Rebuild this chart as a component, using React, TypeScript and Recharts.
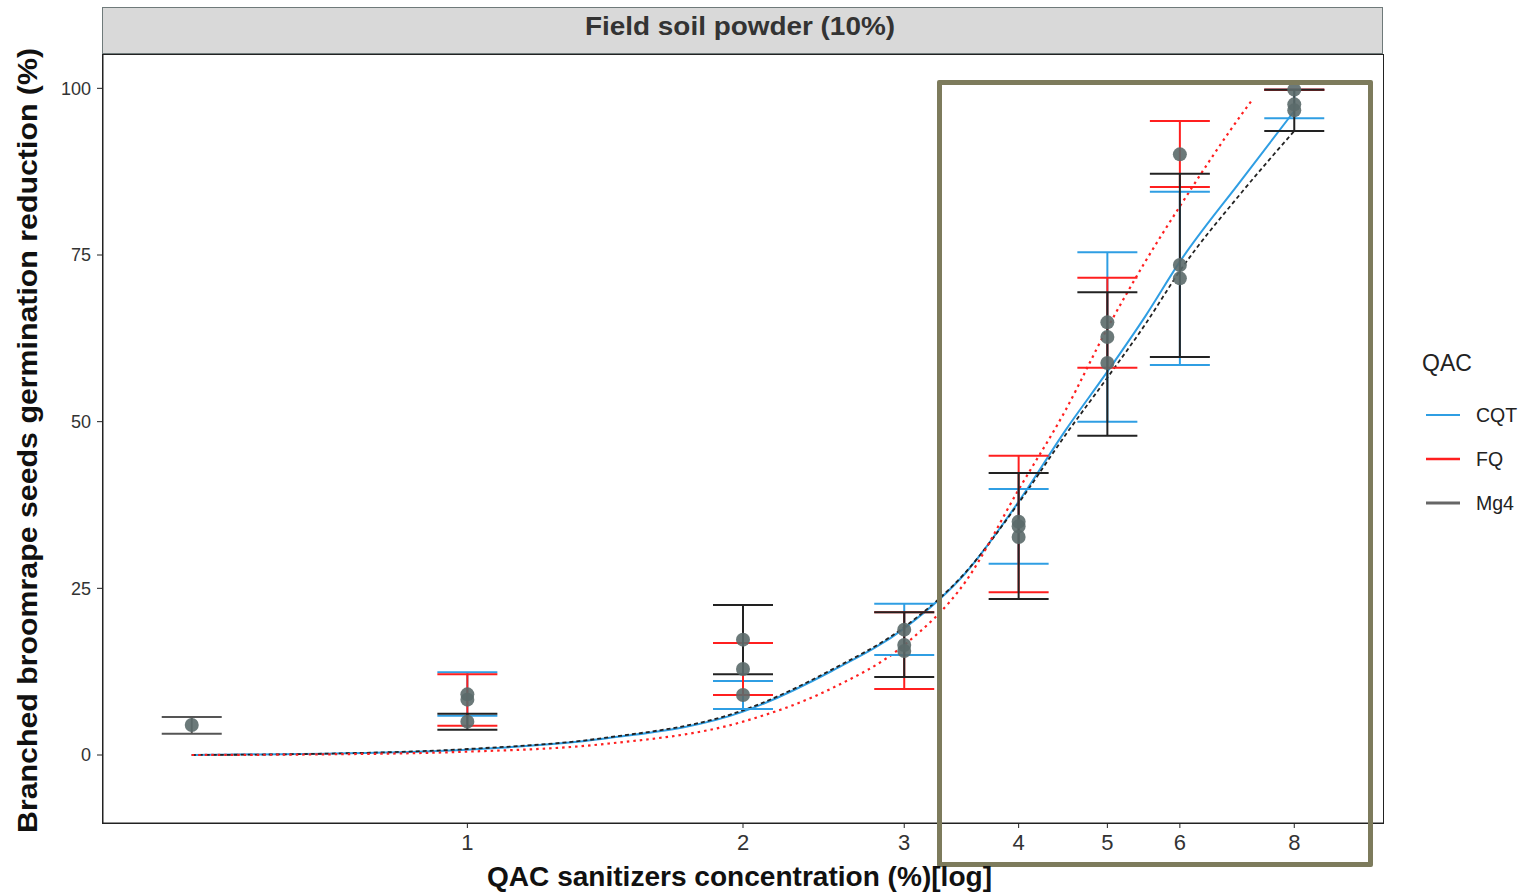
import React from 'react';
import { ComposedChart, Line, Scatter, ErrorBar, XAxis, YAxis } from 'recharts';

// concentrations (log axis) and per-QAC means with error limits
const concentrations = [1, 2, 3, 4, 5, 6, 8];
const cqtMean = [9.1, 9.0, 18.8, 34.3, 62.7, 71.5, 97.6];
const cqtLow = [5.9, 6.9, 15.0, 28.7, 50.0, 58.5, 95.5];
const cqtHigh = [12.4, 11.1, 22.7, 39.9, 75.4, 84.5, 99.8];
const fqMean = [8.3, 12.9, 15.6, 35.0, 64.9, 90.1, 99.8];
const fqLow = [4.4, 9.0, 9.9, 24.4, 58.1, 85.2, 99.8];
const fqHigh = [12.1, 16.8, 21.4, 44.9, 71.6, 95.1, 99.8];
const mg4Mean = [5.0, 17.3, 16.5, 32.7, 58.8, 73.5, 96.7];
const mg4Low = [3.8, 12.1, 11.7, 23.4, 47.9, 59.7, 93.6];
const mg4High = [6.2, 22.5, 21.4, 42.3, 69.4, 87.2, 99.8];

// untreated control
const controlX = [0.5];
const controlMean = [4.5];
const controlLow = [3.2];
const controlHigh = [5.7];

// fitted dose-response curves
const curveX = [0.5, 0.7, 1, 1.4, 2, 2.5, 3, 3.5, 4, 4.5, 5, 5.5, 6, 7, 8];
const cqtCurve = [0, 0.2, 0.8, 2.4, 6.5, 12.6, 19.0, 27.3, 38.0, 48.7, 57.5, 65.8, 74.0, 86.2, 96.6];
const mg4Curve = [0, 0.2, 0.9, 2.5, 6.7, 12.8, 19.2, 27.4, 37.8, 48.0, 56.6, 64.6, 72.6, 84.3, 93.6];
const fqCurveX = [0.5, 0.7, 1, 1.4, 2, 2.5, 3, 3.5, 4, 4.5, 5, 5.5, 6, 7, 7.2];
const fqCurve = [0, 0.1, 0.5, 1.6, 5.0, 10.0, 16.5, 26.0, 39.8, 51.7, 64.0, 74.0, 82.3, 96.0, 98.3];

const xTicks = [1, 2, 3, 4, 5, 6, 8];
const yTicks = [0, 25, 50, 75, 100];

const BLUE = '#2f9ee3';
const RED = '#ff1f1f';
const DARK = '#222222';
const DOT = '#5b6a6a';
const OLIVE = '#7d7b5c';
const FONT = '"Liberation Sans", Arial, sans-serif';

const toPoints = (xs: number[], means: number[], lows: number[], highs: number[]) =>
  xs.map((x, i) => ({ x, y: means[i], err: [means[i] - lows[i], highs[i] - means[i]] }));

const toCurve = (xs: number[], ys: number[]) => xs.map((x, i) => ({ x, y: ys[i] }));

const cqtPoints = toPoints(concentrations, cqtMean, cqtLow, cqtHigh);
const fqPoints = toPoints(concentrations, fqMean, fqLow, fqHigh);
const mg4Points = toPoints(concentrations, mg4Mean, mg4Low, mg4High);
const controlPoints = toPoints(controlX, controlMean, controlLow, controlHigh);
const allPoints = [...controlPoints, ...cqtPoints, ...fqPoints, ...mg4Points];

const noShape = () => <g />;

export default function App() {
  return (
    <div style={{ position: 'absolute', left: 0, top: 0, width: 1523, height: 894, background: '#fff' }}>
      <ComposedChart
        width={1523}
        height={894}
        margin={{ top: 55, right: 140, bottom: 31, left: 53 }}
      >
        <XAxis
          dataKey="x"
          type="number"
          scale="log"
          domain={[0.4, 10]}
          allowDataOverflow
          ticks={xTicks}
          tickSize={5}
          tickMargin={6}
          height={40}
          stroke="#222"
          tick={{ fontSize: 22, fill: '#333', fontFamily: FONT }}
        />
        <YAxis
          type="number"
          domain={[-10.2, 105]}
          allowDataOverflow
          ticks={yTicks}
          tickSize={6}
          tickMargin={6}
          width={50}
          stroke="#222"
          tick={{ fontSize: 18, fill: '#333', fontFamily: FONT }}
        />
        <Line data={toCurve(curveX, cqtCurve)} dataKey="y" type="monotone" stroke={BLUE} strokeWidth={2} dot={false} isAnimationActive={false} />
        <Line data={toCurve(curveX, mg4Curve)} dataKey="y" type="monotone" stroke={DARK} strokeWidth={1.8} strokeDasharray="4 3" dot={false} isAnimationActive={false} />
        <Line data={toCurve(fqCurveX, fqCurve)} dataKey="y" type="monotone" stroke={RED} strokeWidth={2.2} strokeDasharray="2.5 4" dot={false} isAnimationActive={false} />

        <Scatter data={controlPoints} dataKey="y" shape={noShape} isAnimationActive={false}>
          <ErrorBar dataKey="err" direction="y" width={30} stroke="#555" strokeWidth={2} />
        </Scatter>
        <Scatter data={cqtPoints} dataKey="y" shape={noShape} isAnimationActive={false}>
          <ErrorBar dataKey="err" direction="y" width={30} stroke={BLUE} strokeWidth={2} />
        </Scatter>
        <Scatter data={fqPoints} dataKey="y" shape={noShape} isAnimationActive={false}>
          <ErrorBar dataKey="err" direction="y" width={30} stroke={RED} strokeWidth={2} />
        </Scatter>
        <Scatter data={mg4Points} dataKey="y" shape={noShape} isAnimationActive={false}>
          <ErrorBar dataKey="err" direction="y" width={30} stroke={DARK} strokeWidth={2} />
        </Scatter>
        <Scatter
          data={allPoints}
          dataKey="y"
          isAnimationActive={false}
          shape={(p: any) => <circle cx={p.cx} cy={p.cy} r={7} fill={DOT} fillOpacity={0.9} />}
        />
      </ComposedChart>

      {/* facet strip */}
      <div
        style={{
          position: 'absolute', left: 102, top: 7, width: 1281, height: 47,
          background: '#d9d9d9', border: '1.5px solid #6f7a7a', boxSizing: 'border-box',
        }}
      />
      {/* panel border */}
      <div
        style={{
          position: 'absolute', left: 102, top: 54, width: 1282, height: 770,
          border: '1.5px solid #222', boxSizing: 'border-box', pointerEvents: 'none',
        }}
      />
      {/* highlight box */}
      <div
        style={{
          position: 'absolute', left: 937, top: 80, width: 436, height: 787,
          border: `5px solid ${OLIVE}`, borderRadius: 2, boxSizing: 'border-box', pointerEvents: 'none',
        }}
      />

      <svg width={1523} height={894} style={{ position: 'absolute', left: 0, top: 0, pointerEvents: 'none' }}>
        <text x={740} y={35} textAnchor="middle" fontFamily={FONT} fontWeight="bold" fontSize={26} fill="#333" textLength={310} lengthAdjust="spacingAndGlyphs">
          Field soil powder (10%)
        </text>
        <text x={487} y={886} fontFamily={FONT} fontWeight="bold" fontSize={27} fill="#111" textLength={505} lengthAdjust="spacingAndGlyphs">
          QAC sanitizers concentration (%)[log]
        </text>
        <text
          x={0}
          y={0}
          transform="translate(37 833) rotate(-90)"
          fontFamily={FONT}
          fontWeight="bold"
          fontSize={27}
          fill="#111"
          textLength={785}
          lengthAdjust="spacingAndGlyphs"
        >
          Branched broomrape seeds germination reduction (%)
        </text>

        <text x={1422} y={371} fontFamily={FONT} fontSize={23} fill="#222">QAC</text>
        <line x1={1426} x2={1460} y1={415} y2={415} stroke={BLUE} strokeWidth={2} />
        <text x={1476} y={422} fontFamily={FONT} fontSize={19.5} fill="#222">CQT</text>
        <line x1={1426} x2={1460} y1={459} y2={459} stroke={RED} strokeWidth={2.5} />
        <text x={1476} y={466} fontFamily={FONT} fontSize={19.5} fill="#222">FQ</text>
        <line x1={1426} x2={1460} y1={503} y2={503} stroke="#666" strokeWidth={3} />
        <text x={1476} y={510} fontFamily={FONT} fontSize={19.5} fill="#222">Mg4</text>
      </svg>
    </div>
  );
}
